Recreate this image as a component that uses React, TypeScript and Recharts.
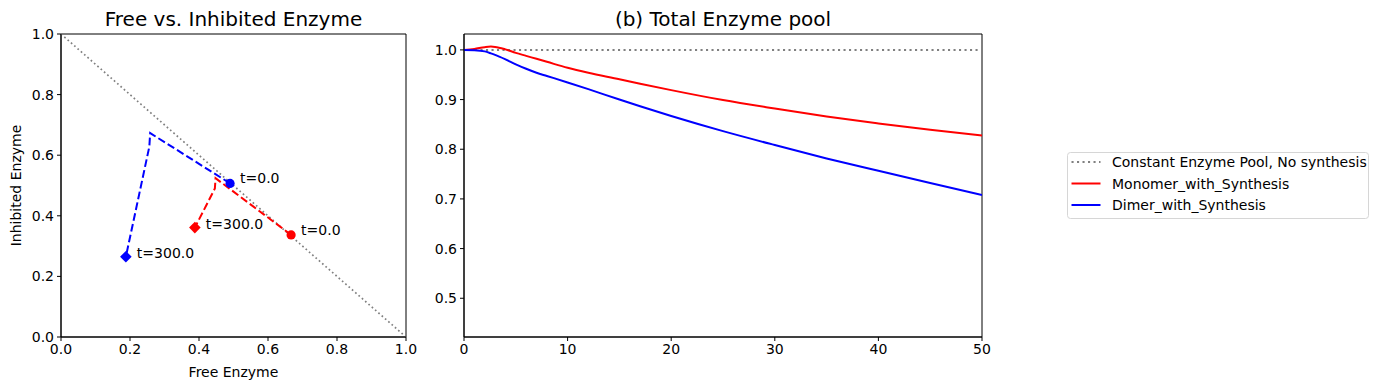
import React from "react";
import { ComposedChart, Line, Scatter, XAxis, YAxis, Label, ReferenceArea } from "recharts";

// ---- left panel: free vs inhibited enzyme trajectories ----
const unitDomain: [number, number] = [0, 1];
const unitTicks = [0, 0.2, 0.4, 0.6, 0.8, 1.0];
const diagonal = [
  { x: 0, y: 1 },
  { x: 1, y: 0 },
];
const monomerPath = [
  { x: 0.667, y: 0.337 },
  { x: 0.448, y: 0.524 },
  { x: 0.446, y: 0.49 },
  { x: 0.388, y: 0.361 },
];
const dimerPath = [
  { x: 0.49, y: 0.507 },
  { x: 0.2585, y: 0.673 },
  { x: 0.256, y: 0.628 },
  { x: 0.188, y: 0.265 },
];
const monomerStart = [{ x: 0.667, y: 0.337, label: "t=0.0" }];
const monomerEnd = [{ x: 0.388, y: 0.361, label: "t=300.0" }];
const dimerStart = [{ x: 0.49, y: 0.507, label: "t=0.0" }];
const dimerEnd = [{ x: 0.188, y: 0.265, label: "t=300.0" }];

// ---- right panel: total enzyme pool over time ----
const timeDomain: [number, number] = [0, 50];
const poolDomain: [number, number] = [0.422, 1.032];
const times = [0, 1, 2, 2.6, 3, 4, 5, 6, 7, 8, 10, 12, 15, 17, 20, 25, 30, 35, 40, 45, 50];
const monomerTotal = [
  1.0, 1.002, 1.0055, 1.0066, 1.006, 1.001, 0.994, 0.988, 0.982, 0.976, 0.964, 0.954, 0.941,
  0.932, 0.919, 0.899, 0.882, 0.866, 0.852, 0.839, 0.8275,
];
const dimerTotal = [
  1.0, 0.9995, 0.997, 0.993, 0.99, 0.981, 0.971, 0.962, 0.954, 0.9475, 0.9345, 0.921, 0.9,
  0.8865, 0.867, 0.8365, 0.8085, 0.7815, 0.7565, 0.732, 0.708,
];
const constantPool = times.map(() => 1.0);
const timeTicks = [0, 10, 20, 30, 40, 50];
const poolTicks = [0.5, 0.6, 0.7, 0.8, 0.9, 1.0];

const poolData = times.map((t, i) => ({
  t,
  monomer: monomerTotal[i],
  dimer: dimerTotal[i],
  constant: constantPool[i],
}));

const legendItems = [
  { name: "Constant Enzyme Pool, No synthesis", color: "#808080", dash: "2.1 3.4" },
  { name: "Monomer_with_Synthesis", color: "#ff0000", dash: undefined },
  { name: "Dimer_with_Synthesis", color: "#0000ff", dash: undefined },
];

const RED = "#ff0000";
const BLUE = "#0000ff";
const FONT = "'DejaVu Sans', sans-serif";
const tickStyle = { fill: "#000", fontSize: 14 };

const fmt1 = (v: number) => v.toFixed(1);

const circleMarker = (color: string) => (props: any) => {
  const { cx, cy, payload } = props;
  return (
    <g>
      <circle cx={cx} cy={cy} r={4.6} fill={color} />
      <text x={cx + 10} y={cy} fontSize={14} fill="#000">
        {payload.label}
      </text>
    </g>
  );
};

const diamondMarker = (color: string) => (props: any) => {
  const { cx, cy, payload } = props;
  const d = 5.8;
  return (
    <g>
      <polygon
        points={`${cx},${cy - d} ${cx + d},${cy} ${cx},${cy + d} ${cx - d},${cy}`}
        fill={color}
      />
      <text x={cx + 11} y={cy + 1} fontSize={14} fill="#000">
        {payload.label}
      </text>
    </g>
  );
};

function FreeVsInhibited() {
  return (
    <ComposedChart
      width={420}
      height={390}
      margin={{ top: 34, right: 14, bottom: 0, left: 0 }}
    >
      <XAxis
        type="number"
        dataKey="x"
        domain={unitDomain}
        ticks={unitTicks}
        tickFormatter={fmt1}
        allowDataOverflow
        height={53}
        tickSize={4}
        tickMargin={3}
        tick={tickStyle}
        axisLine={{ stroke: "#000" }}
        tickLine={{ stroke: "#000" }}
      >
        <Label value="Free Enzyme" position="insideBottom" offset={13} fill="#000" fontSize={14} />
      </XAxis>
      <YAxis
        type="number"
        dataKey="y"
        domain={unitDomain}
        ticks={unitTicks}
        tickFormatter={fmt1}
        allowDataOverflow
        width={61}
        tickSize={4}
        tickMargin={3}
        tick={tickStyle}
        axisLine={{ stroke: "#000" }}
        tickLine={{ stroke: "#000" }}
      >
        <Label
          value="Inhibited Enzyme"
          angle={-90}
          position="insideLeft"
          offset={16}
          fill="#000"
          fontSize={14}
          style={{ textAnchor: "middle" }}
        />
      </YAxis>
      <ReferenceArea
        x1={unitDomain[0]}
        x2={unitDomain[1]}
        y1={unitDomain[0]}
        y2={unitDomain[1]}
        fill="none"
        fillOpacity={0}
        stroke="#000"
        strokeOpacity={1}
        ifOverflow="visible"
      />
      <Line
        data={diagonal}
        dataKey="y"
        stroke="#808080"
        strokeWidth={1.7}
        strokeDasharray="1.7 2.7"
        dot={false}
        isAnimationActive={false}
      />
      <Line
        data={monomerPath}
        dataKey="y"
        stroke={RED}
        strokeWidth={2}
        strokeDasharray="7.7 3.3"
        dot={false}
        isAnimationActive={false}
      />
      <Line
        data={dimerPath}
        dataKey="y"
        stroke={BLUE}
        strokeWidth={2}
        strokeDasharray="7.7 3.3"
        dot={false}
        isAnimationActive={false}
      />
      <Scatter data={monomerStart} dataKey="y" shape={circleMarker(RED)} isAnimationActive={false} />
      <Scatter data={monomerEnd} dataKey="y" shape={diamondMarker(RED)} isAnimationActive={false} />
      <Scatter data={dimerStart} dataKey="y" shape={circleMarker(BLUE)} isAnimationActive={false} />
      <Scatter data={dimerEnd} dataKey="y" shape={diamondMarker(BLUE)} isAnimationActive={false} />
    </ComposedChart>
  );
}

function TotalPool() {
  return (
    <ComposedChart
      width={600}
      height={390}
      data={poolData}
      margin={{ top: 34, right: 18, bottom: 0, left: 0 }}
    >
      <XAxis
        type="number"
        dataKey="t"
        domain={timeDomain}
        ticks={timeTicks}
        allowDataOverflow
        height={53}
        tickSize={4}
        tickMargin={3}
        tick={tickStyle}
        axisLine={{ stroke: "#000" }}
        tickLine={{ stroke: "#000" }}
      />
      <YAxis
        type="number"
        domain={poolDomain}
        ticks={poolTicks}
        tickFormatter={fmt1}
        allowDataOverflow
        width={64}
        tickSize={4}
        tickMargin={3}
        tick={tickStyle}
        axisLine={{ stroke: "#000" }}
        tickLine={{ stroke: "#000" }}
      />
      <ReferenceArea
        x1={timeDomain[0]}
        x2={timeDomain[1]}
        y1={poolDomain[0]}
        y2={poolDomain[1]}
        fill="none"
        fillOpacity={0}
        stroke="#000"
        strokeOpacity={1}
        ifOverflow="visible"
      />
      <Line
        dataKey="constant"
        stroke="#808080"
        strokeWidth={2}
        strokeDasharray="2.1 3.4"
        dot={false}
        isAnimationActive={false}
      />
      <Line
        type="monotone"
        dataKey="monomer"
        stroke={RED}
        strokeWidth={2}
        dot={false}
        isAnimationActive={false}
      />
      <Line
        type="monotone"
        dataKey="dimer"
        stroke={BLUE}
        strokeWidth={2}
        dot={false}
        isAnimationActive={false}
      />
    </ComposedChart>
  );
}

function PoolLegend() {
  const rows = [10, 31.5, 53];
  return (
    <svg width={304} height={69} style={{ position: "absolute", left: 1066, top: 151 }}>
      <rect x={1.5} y={1.5} width={301} height={66} rx={3} fill="#fff" stroke="#d6d6d6" />
      {legendItems.map((item, i) => (
        <g key={item.name}>
          <line
            x1={5.5}
            x2={34.5}
            y1={rows[i] + 1}
            y2={rows[i] + 1}
            stroke={item.color}
            strokeWidth={2}
            strokeDasharray={item.dash}
          />
          <text x={46} y={rows[i] + 6} fontSize={14} fill="#000">
            {item.name}
          </text>
        </g>
      ))}
    </svg>
  );
}

export default function App() {
  return (
    <div
      style={{
        position: "absolute",
        left: 0,
        top: 0,
        width: 1378,
        height: 390,
        background: "#fff",
        fontFamily: FONT,
      }}
    >
      <div
        style={{
          position: "absolute",
          left: 61,
          width: 345,
          top: 7,
          textAlign: "center",
          fontSize: 20,
          lineHeight: "24px",
        }}
      >
        Free vs. Inhibited Enzyme
      </div>
      <div
        style={{
          position: "absolute",
          left: 464,
          width: 518,
          top: 7,
          textAlign: "center",
          fontSize: 20,
          lineHeight: "24px",
        }}
      >
        (b) Total Enzyme pool
      </div>
      <div style={{ position: "absolute", left: 0, top: 0 }}>
        <FreeVsInhibited />
      </div>
      <div style={{ position: "absolute", left: 400, top: 0 }}>
        <TotalPool />
      </div>
      <PoolLegend />
    </div>
  );
}
